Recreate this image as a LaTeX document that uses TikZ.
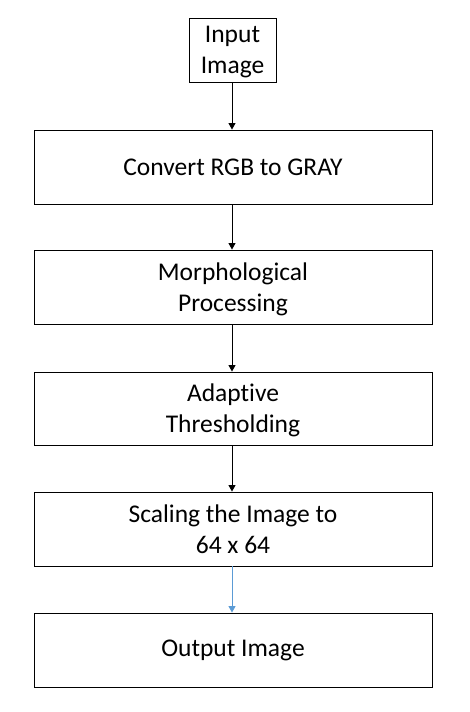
\documentclass[tikz,border=0pt]{standalone}
\usepackage{fontspec}
\setmainfont[Ligatures=NoCommon]{Carlito}
\usetikzlibrary{arrows.meta}
\definecolor{arrowblue}{RGB}{91,155,213}
\begin{document}
\begin{tikzpicture}[x=1pt,y=1pt,-{Triangle[width=7pt,length=6.5pt]},line width=0.9pt]
            \tikzstyle{block}=[rectangle,draw=black,fill=white,minimum width=398pt,minimum height=74pt,inner sep=0pt,align=center,font=\fontsize{25.5}{31}\selectfont]
            \tikzstyle{twoline}=[text depth=0pt]
            \useasboundingbox (0,0) rectangle (469,712);
            \node[block,twoline,minimum width=87pt,minimum height=64pt] (V-in) at (232.5,662) {Input\\Image};
            \node[block] (V-gray) at (233,545) {Convert RGB to GRAY};
            \node[block,twoline] (V-morph) at (233,425) {Morphological\\Processing};
            \node[block,twoline,minimum height=73pt] (V-thresh) at (233,303.5) {Adaptive\\Thresholding};
            \node[block,twoline] (V-scale) at (233,183) {Scaling the Image to\\64 x 64};
            \node[block] (V-out) at (233,62) {Output Image};

                \foreach \from/\to in {in/gray, gray/morph, morph/thresh, thresh/scale}
                    \draw (V-\from.south -| 232,0) -- (V-\to.north -| 232,0);

                \draw[draw=arrowblue,fill=arrowblue] (V-scale.south -| 232,0) -- (V-out.north -| 232,0);
        \end{tikzpicture}
\end{document}
